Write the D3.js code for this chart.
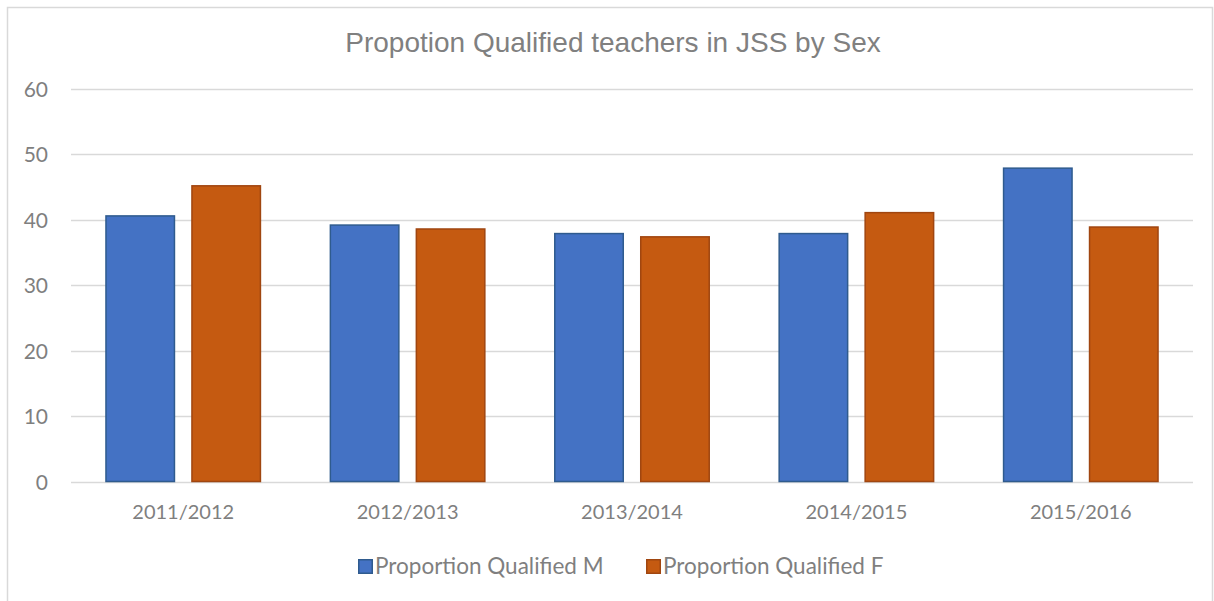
<!DOCTYPE html>
<html><head><meta charset="utf-8">
<script src="https://cdn.jsdelivr.net/npm/d3@7"></script>
<style>body{margin:0;background:#fff}svg{display:block}</style>
</head><body>
<svg id="c" width="1214" height="601"></svg>
<script>
const categories = ["2011/2012","2012/2013","2013/2014","2014/2015","2015/2016"];
const seriesNames = ["Proportion Qualified M","Proportion Qualified F"];
const valuesM = [40.6, 39.2, 37.9, 37.9, 47.9];
const valuesF = [45.2, 38.6, 37.4, 41.1, 38.9];
const yTicks = [0,10,20,30,40,50,60];
const title = "Propotion Qualified teachers in JSS by Sex";

const fills = ["#4472c4","#c55a11"];
const strokes = ["#2f5b8e","#a04610"];
const font = "Lato, 'Open Sans', sans-serif";

const svg = d3.select("#c");
// chart frame
svg.append("rect").attr("x",7.5).attr("y",7.5).attr("width",1205).attr("height",600)
  .attr("fill","#fff").attr("stroke","#d9d9d9").attr("stroke-width",1.5);

const x = d3.scaleBand().domain(categories).range([71,1193]).paddingInner(0.305).paddingOuter(0.1525);
const xs = d3.scaleBand().domain(seriesNames).range([0,x.bandwidth()]).paddingInner(0.186);
const y = d3.scaleLinear().domain([0,60]).range([481.5,89]);

// gridlines
svg.append("g").selectAll("line").data(yTicks).join("line")
  .attr("x1",71).attr("x2",1193).attr("y1",d=>Math.round(y(d))+0.5).attr("y2",d=>Math.round(y(d))+0.5)
  .attr("stroke","#d9d9d9").attr("stroke-width",1.5);

// y axis
const yAxis = svg.append("g").attr("transform","translate(71,0)")
  .call(d3.axisLeft(y).tickValues(yTicks).tickSize(0).tickPadding(23));
yAxis.select(".domain").remove();
yAxis.selectAll("text").attr("font-family",font).attr("font-size",21).attr("fill","#7f7f7f").attr("dy","0.36em");

// x axis
const xAxis = svg.append("g").attr("transform","translate(0,481.5)")
  .call(d3.axisBottom(x).tickSize(0).tickPadding(23));
xAxis.select(".domain").remove();
xAxis.selectAll("text").attr("font-family",font).attr("font-size",20).attr("fill","#7f7f7f");

// bars
const data = categories.map((c,i)=>({cat:c, vals:[valuesM[i], valuesF[i]]}));
const groups = svg.append("g").selectAll("g").data(data).join("g")
  .attr("transform",d=>`translate(${x(d.cat)},0)`);
groups.selectAll("rect").data(d=>d.vals.map((v,j)=>({v, s:seriesNames[j], j})))
  .join("rect")
  .attr("x",d=>xs(d.s)+0.75).attr("width",xs.bandwidth()-1.5)
  .attr("y",d=>y(d.v)).attr("height",d=>y(0)-y(d.v))
  .attr("fill",d=>fills[d.j]).attr("stroke",d=>strokes[d.j]).attr("stroke-width",1.5);

// title
svg.append("text").attr("x",613).attr("y",52).attr("text-anchor","middle")
  .attr("font-family","'Liberation Sans', Arial, sans-serif").attr("font-size",28).attr("fill","#808080")
  .text(title);

// legend
const legX = [358, 646];
const leg = svg.append("g").selectAll("g").data(seriesNames).join("g")
  .attr("transform",(d,i)=>`translate(${legX[i]},559)`);
leg.append("rect").attr("x",0.75).attr("y",0.75).attr("width",13.5).attr("height",13.5)
  .attr("fill",(d,i)=>fills[i]).attr("stroke",(d,i)=>strokes[i]).attr("stroke-width",1.5);
leg.append("text").attr("x",17).attr("y",15)
  .attr("font-family",font).attr("font-size",22.5).attr("fill","#7f7f7f")
  .text(d=>d);
</script>
</body></html>
